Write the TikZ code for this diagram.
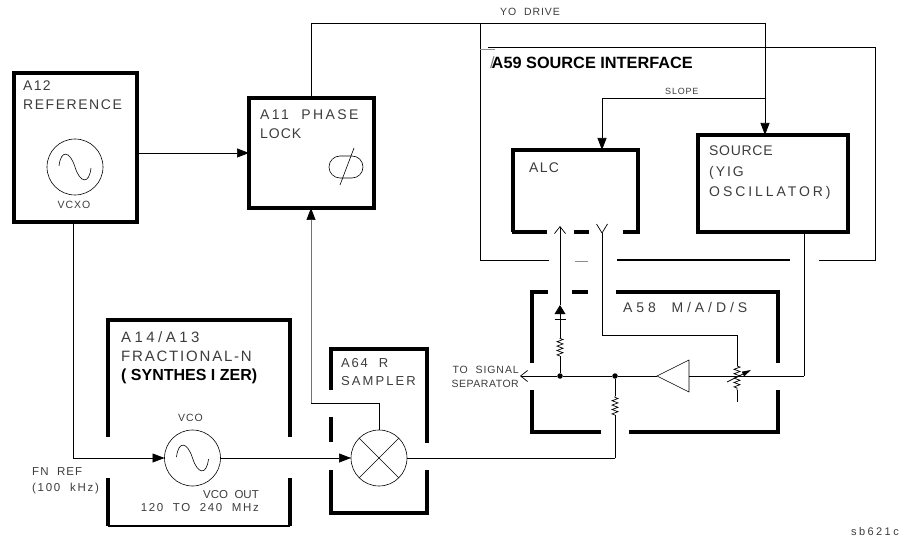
\documentclass[tikz,border=0pt]{standalone}
\usepackage{fontspec}
\setmainfont{Liberation Sans}
\newfontfamily\widefont[LetterSpace=9, WordSpace=2]{Liberation Sans}
\usepackage{xcolor}
\usepackage{tikz}
\usetikzlibrary{shapes.geometric, shapes.misc, arrows.meta, decorations.pathmorphing}
\definecolor{InkGray}{RGB}{60,60,60}
\newcommand{\lblsize}[1]{\fontsize{#1}{#1}\selectfont}
\newcommand{\ls}[1]{\addfontfeature{LetterSpace=#1}}

\begin{document}
\begin{tikzpicture}[
    x=1pt, y=-1pt,
    frame/.style={line width=3.2pt, line cap=butt},
    blockbox/.style={rectangle, draw, line width=3.2pt, inner sep=0pt, outer sep=0pt},
    osc/.style={circle, draw, line width=0.6pt, minimum size=56pt, inner sep=0pt, outer sep=0pt},
    sig/.style={line width=0.7pt},
    arr/.style={sig, -{Triangle[length=12pt, width=9pt, color=black]}},
    barb/.style={sig, -{Straight Barb[length=7pt, width=11pt]}},
    dotnode/.style={circle, fill, minimum size=5.5pt, inner sep=0pt},
    res/.style={decorate, decoration={zigzag, segment length=4.4pt, amplitude=3pt}},
    lbl/.style={anchor=north west, inner sep=0pt, align=left, text=InkGray, font=\widefont\lblsize{14}},
    small/.style={lbl, font=\widefont\lblsize{10.5}},
    heavy/.style={lbl, text=black, font=\bfseries\lblsize{16.3}}
]
\useasboundingbox (0,0) rectangle (902,537);

% closed blocks
\node[blockbox, minimum width=123pt, minimum height=149pt] (refbox) at (75.5,147.5) {};
\node[blockbox, minimum width=125pt, minimum height=110pt] (lockbox) at (311.5,153) {};
\node[blockbox, minimum width=150pt, minimum height=97pt] (srcbox) at (773,183.5) {};

% circles
\node[osc] (vcxo) at (75,167) {};
\node[osc] (vco) at (192.5,458) {};
\node[osc] (mixer) at (379,458) {};
\node[rounded rectangle, draw, line width=0.6pt, minimum width=34pt, minimum height=22pt, inner sep=0pt] (phs) at (346,167) {};
\node[isosceles triangle, isosceles triangle apex angle=60, isosceles triangle stretches, shape border rotate=180,
      draw, line width=0.6pt, minimum width=32pt, minimum height=32pt, inner sep=0pt, outer sep=0pt, anchor=apex] (amp) at (657,376) {};
\node[isosceles triangle, isosceles triangle apex angle=60, isosceles triangle stretches, shape border rotate=90,
      fill, minimum width=11pt, minimum height=9pt, inner sep=0pt, outer sep=0pt, anchor=apex] (diode) at (560,305) {};

% open frames
\draw[frame] (108,437) |- (290,320) -- (290,437);
\draw[frame] (108,478) -- (108,526);
\draw[frame, line width=2.2pt] (108,526) -- (290,526);
\draw[frame] (290,478) -- (290,526);
\draw[frame] (331,390) -- (331,349) -- (427,349) -- (427,443);
\draw[frame] (331,417) -- (331,442);
\draw[frame] (331,470) |- (427,513) -- (427,470);
\draw[frame] (513,232) |- (638,150) -- (638,232);
\draw[frame] (511.5,232) -- (547,232);
\draw[frame] (574,232) -- (589,232);
\draw[frame] (623,232) -- (639.5,232);
\draw[frame] (532,363) |- (548,292);
\draw[frame] (572,292) -- (588,292);
\draw[frame] (616,292) -| (778,363);
\draw[frame] (532,390) |- (601,432);
\draw[frame] (629,432) -| (778,390);

% A59 outline
\draw[sig] (549,260) -| (480,23);
\draw[sig] (488,47) -- (875,47) -- (875,260) -- (819,260);
\draw[sig, black!45] (480,49) -- (495,49);
\draw[sig, black!45] (575,261) -- (588,261);
\draw[frame, line width=2pt] (617,260) -- (790,260);

% named points
\coordinate (yocorner) at (765,23);
\coordinate (slopecorner) at (765,98);
\coordinate (alctop) at (602,150);
\coordinate (fnjoin) at (73,458);
\coordinate (lockturn) at (311,403);
\coordinate (detin) at (560,226);
\coordinate (yfork) at (602,233);
\coordinate (yturn) at (602,335);
\coordinate (attturn) at (737,335);
\coordinate (srcturn) at (804,376);
\coordinate (sigout) at (520,376);
\coordinate (mixturn) at (615,458);
\node[dotnode] (junca) at (560,376) {};
\node[dotnode] (juncb) at (615,376) {};

% connectors
\draw[arr] (refbox.east |- lockbox.west) -- (lockbox.west);
\draw[sig] (lockbox.north) |- (yocorner);
\draw[arr] (yocorner) -- (yocorner |- srcbox.north);
\draw[arr] (slopecorner) -| (alctop);
\draw[sig] (refbox.south -| fnjoin) -- (fnjoin);
\draw[arr] (fnjoin) -- (vco.west);
\draw[arr] (vco.east) -- (mixer.west);
\draw[arr, black!55] (lockturn) -- (lockturn |- lockbox.south);
\draw[sig] (lockturn) -| (mixer.north);
\draw[sig] (mixer.east) -- (mixturn);
\draw[sig] (mixturn) -- (615,415);
\draw[sig, res] (615,415) -- (615,396);
\draw[sig] (615,396) -- (juncb);
\draw[sig] (srcbox.south -| srcturn) -- (srcturn);
\draw[sig] (srcturn) -- (amp.east);
\draw[sig] (amp.apex) -- (juncb);
\draw[sig] (juncb) -- (junca);
\draw[barb] (junca) -- (sigout);
\draw[sig] (junca) -- (560,356);
\draw[sig, res] (560,356) -- (560,338);
\draw[sig] (560,338) -- (diode.south);
\draw[barb] (diode.north) -- (detin);
\draw[sig] (554.5,319) -- (565.5,319);
\draw[sig] (yfork) -- (yturn) -- (attturn) -- (737,366);
\draw[sig] (yfork) -- (596.5,224);
\draw[sig] (yfork) -- (607.5,224);
\draw[sig, res] (737,366) -- (737,390);
\draw[sig] (737,390) -- (737,402);
\draw[sig, -{Triangle[length=9pt, width=5pt]}] (727,382) -- (751,370);

% glyphs inside the circles
\foreach \osc in {vcxo, vco} {
  \draw[line width=0.6pt] ([shift={(-16,-1)}]\osc.center) .. controls ([shift={(-14,-18)}]\osc.center) and ([shift={(-5,-16)}]\osc.center) .. (\osc.center)
     .. controls ([shift={(5,16)}]\osc.center) and ([shift={(14,18)}]\osc.center) .. ([shift={(16,1)}]\osc.center);
}
\draw[line width=0.6pt] (mixer.45) -- (mixer.225);
\draw[line width=0.6pt] (mixer.135) -- (mixer.315);
\draw[line width=0.6pt] ([shift={(-6,18)}]phs.center) -- ([shift={(8,-19)}]phs.center);

% labels
\node[lbl] (lreftxt) at (23,81) {A12\\[5pt]\ls{11}REFERENCE};
\node[small] (lvcxo) at (57.5,201) {VCXO};
\node[lbl] (llock) at (260,110) {\ls{17}A11 PHASE\\[5pt]\ls{7}LOCK};
\node[small] (lyo) at (500,8) {YO DRIVE};
\node[small, font=\widefont\lblsize{9}] (lslope) at (665,88) {SLOPE};
\node[heavy] (la59) at (490,56) {{\normalfont\color{black!50}/}\kern-3pt A59 SOURCE INTERFACE};
\node[lbl] (lalc) at (529,163) {ALC};
\node[lbl] (lsrc) at (709,146) {\ls{5}SOURCE\\[7pt]\ls{14}(YIG\\[6pt]\ls{21}OSCILLATOR)};
\node[lbl] (la58) at (623,302) {\ls{28}A58 M/A/D/S};
\node[small, anchor=north east, align=right] (lsep) at (519,366) {\ls{9}TO SIGNAL\\[3.5pt]\ls{5}SEPARATOR};
\node[lbl, font=\widefont\lblsize{15}] (la14) at (121,331) {\ls{23}A14/A13\\[4pt]\ls{12}FRACTIONAL-N};
\node[heavy, font=\bfseries\lblsize{16}] (lsyn) at (121,369) {( SYNTHES I ZER)};
\node[small] (lvco) at (178,414) {VCO};
\node[small, anchor=north east, align=right, font=\widefont\lblsize{11.5}] (lout) at (259,490) {\ls{0}VCO OUT\\[2pt]\ls{14}120 TO 240 MHz};
\node[lbl, font=\widefont\lblsize{13}] (la64) at (341,358) {\ls{14}A64 R\\[5pt]\ls{16}SAMPLER};
\node[small, font=\widefont\lblsize{11.5}] (lfn) at (32,467) {\ls{9}FN REF\\[5pt]\ls{15}(100 kHz)};
\node[small, font=\widefont\lblsize{11}] (lsb) at (851,527) {\ls{22}sb621c};
\end{tikzpicture}
\end{document}
